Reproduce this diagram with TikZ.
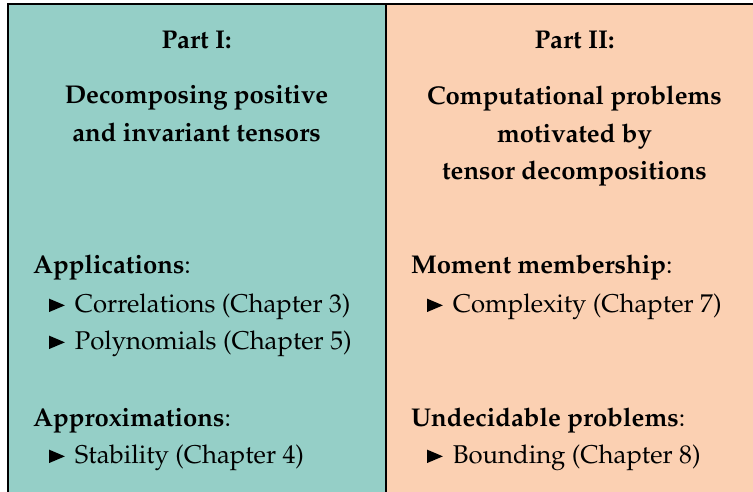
\documentclass[tikz,border=0pt]{standalone}
\usepackage[T1]{fontenc}
\usepackage{mathpazo}

\definecolor{partone}{RGB}{149,207,199}
\definecolor{parttwo}{RGB}{251,208,178}

% filled right-pointing triangle used as a list marker
\newcommand{\listmark}{\tikz[baseline=0pt,x=1pt,y=1pt]\fill[black] (0,0) -- (0,13.3) -- (15.7,6.65) -- cycle;\hspace{10pt}}

\tikzset{
  head/.style={font=\bfseries\fontsize{25.7}{30}\selectfont, anchor=base, inner sep=0pt},
  item/.style={font=\fontsize{25.7}{30}\selectfont, anchor=base west, inner sep=0pt},
  frame/.style={line width=2pt, draw=black},
}

\begin{document}
\begin{tikzpicture}[x=1pt,y=-1pt]
  \useasboundingbox (0,0) rectangle (753,492);
  \begin{scope}
    \clip (0,0) rectangle (753,492);
    % the two coloured panels
    \fill[partone] (7.5,4.5) rectangle (385.5,520);
    \fill[parttwo] (385.5,4.5) rectangle (763.5,520);
    % outer frame and divider
    \draw[frame] (7.5,520) -- (7.5,4.5) -- (763.5,4.5) -- (763.5,520);
    \draw[frame] (385.5,4.5) -- (385.5,520);
  \end{scope}

  % Part I heading
  \node[head] (p1a) at (196.5,49)  {Part I:};
  \node[head] (p1b) at (196.5,104) {Decomposing positive};
  \node[head] (p1c) at (196.5,142) {and invariant tensors};

  % Part II heading
  \node[head] (p2a) at (574.5,49)  {Part II:};
  \node[head] (p2b) at (574.5,105) {Computational problems};
  \node[head] (p2c) at (574.5,143) {motivated by};
  \node[head] (p2d) at (574.5,180) {tensor decompositions};

  % Part I lists
  \node[item] (app)  at (33,273) {\textbf{Applications}:};
  \node[item] (corr) at (49,312) {\listmark Correlations (Chapter 3)};
  \node[item] (poly) at (49,349) {\listmark Polynomials (Chapter 5)};
  \node[item] (apx)  at (33,426) {\textbf{Approximations}:};
  \node[item] (stab) at (49,463) {\listmark Stability (Chapter 4)};

  % Part II lists
  \node[item] (mom)  at (411,273) {\textbf{Moment membership}:};
  \node[item] (cplx) at (427,312) {\listmark Complexity (Chapter 7)};
  \node[item] (und)  at (411,426) {\textbf{Undecidable problems}:};
  \node[item] (bnd)  at (427,463) {\listmark Bounding (Chapter 8)};
\end{tikzpicture}
\end{document}
